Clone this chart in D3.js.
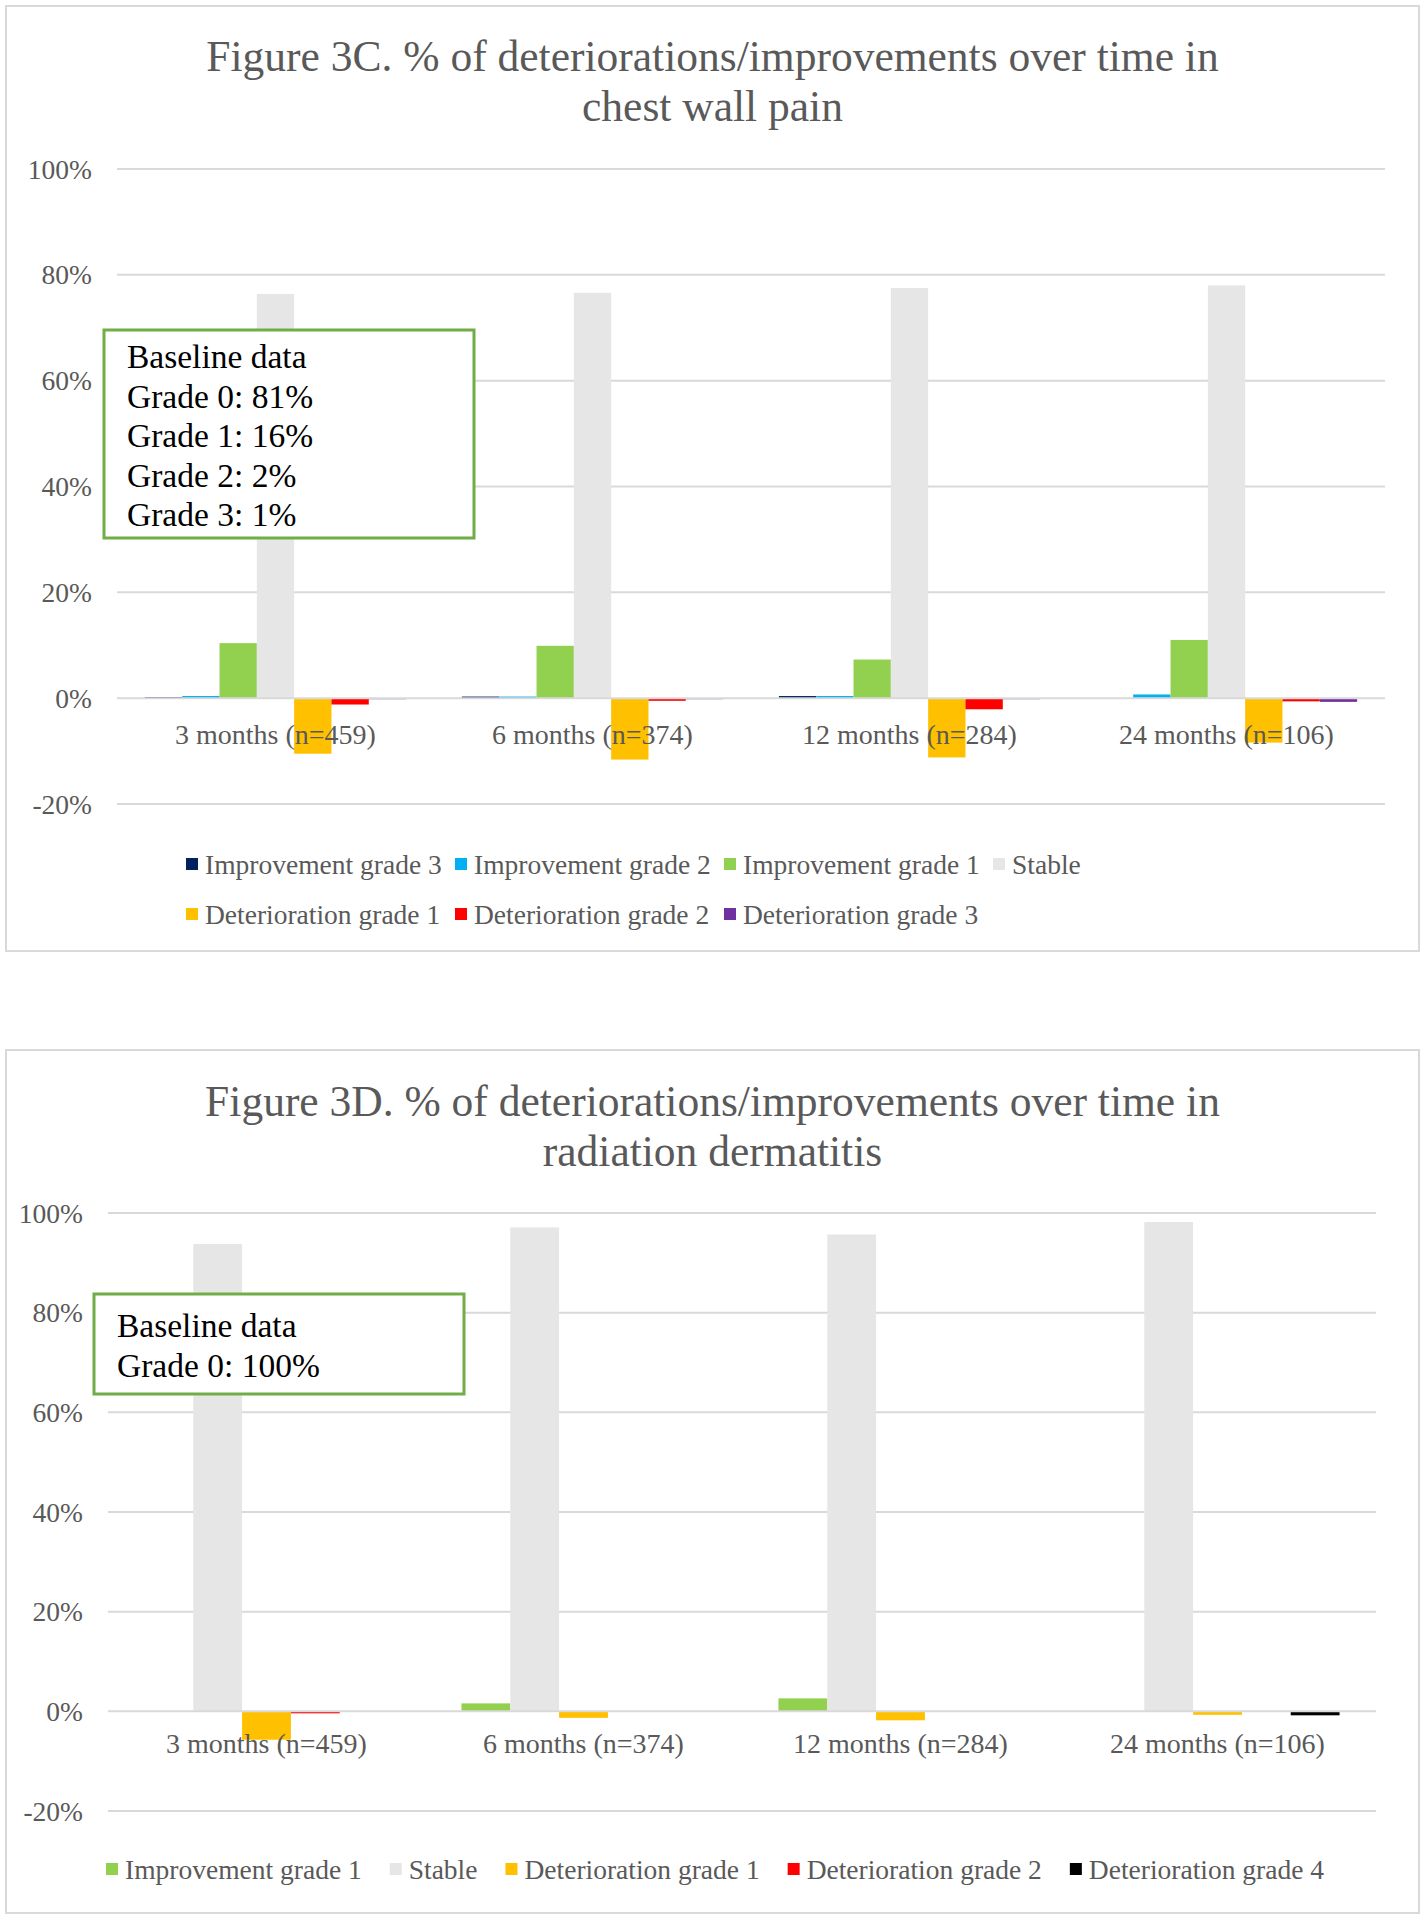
<!DOCTYPE html>
<html>
<head>
<meta charset="utf-8">
<script src="https://cdn.jsdelivr.net/npm/d3@7"></script>
<style>
  body { margin: 0; background: #fff; }
  svg { display: block; font-family: "Liberation Serif", "Times New Roman", serif; }
</style>
</head>
<body>
<div id="chart"></div>
<script>
// categories and tick labels (shared by both panels)
var categories = ["3 months (n=459)", "6 months (n=374)", "12 months (n=284)", "24 months (n=106)"];
var yTicks = [-0.2, 0, 0.2, 0.4, 0.6, 0.8, 1.0];
var yTickLabels = ["-20%", "0%", "20%", "40%", "60%", "80%", "100%"];

// Figure 3C - chest wall pain (values in %)
var chestTitle = ["Figure 3C. % of deteriorations/improvements over time in", "chest wall pain"];
var chestSeries = ["Improvement grade 3", "Improvement grade 2", "Improvement grade 1", "Stable",
                   "Deterioration grade 1", "Deterioration grade 2", "Deterioration grade 3"];
var chestImp3 = [0.2, 0.3, 0.4, 0];
var chestImp2 = [0.4, 0.3, 0.4, 0.7];
var chestImp1 = [10.4, 9.9, 7.3, 11.0];
var chestStable = [76.4, 76.6, 77.5, 78.0];
var chestDet1 = [-10.5, -11.6, -11.2, -8.4];
var chestDet2 = [-1.2, -0.5, -2.1, -0.6];
var chestDet3 = [-0.2, -0.2, -0.2, -0.7];
var chestBaseline = ["Baseline data", "Grade 0: 81%", "Grade 1: 16%", "Grade 2: 2%", "Grade 3: 1%"];

// Figure 3D - radiation dermatitis (values in %)
var dermTitle = ["Figure 3D. % of deteriorations/improvements over time in", "radiation dermatitis"];
var dermSeries = ["Improvement grade 1", "Stable", "Deterioration grade 1", "Deterioration grade 2", "Deterioration grade 4"];
var dermImp1 = [0, 1.6, 2.6, 0];
var dermStable = [93.8, 97.1, 95.7, 98.2];
var dermDet1 = [-5.7, -1.3, -1.8, -0.7];
var dermDet2 = [-0.4, 0, 0, 0];
var dermDet4 = [0, 0, 0, -0.8];
var dermBaseline = ["Baseline data", "Grade 0: 100%"];

var colors = {
  "Improvement grade 3": "#002060",
  "Improvement grade 2": "#00b0f0",
  "Improvement grade 1": "#92d050",
  "Stable": "#e7e6e6",
  "Deterioration grade 1": "#ffc000",
  "Deterioration grade 2": "#ff0000",
  "Deterioration grade 3": "#7030a0",
  "Deterioration grade 4": "#000000"
};

var textGrey = "#595959", gridGrey = "#d9d9d9";

var svg = d3.select("#chart").append("svg")
  .attr("width", 1425)
  .attr("height", 1920);

function drawPanel(cfg)
{
  var g = svg.append("g");

  g.append("rect")
    .attr("x", cfg.box[0]).attr("y", cfg.box[1])
    .attr("width", cfg.box[2]).attr("height", cfg.box[3])
    .attr("fill", "#fff").attr("stroke", gridGrey).attr("stroke-width", 2);

  g.selectAll("text.title").data(cfg.title).enter()
    .append("text")
      .attr("class", "title")
      .attr("x", 712.5)
      .attr("y", function(d, i) { return cfg.titleY + i * 50; })
      .attr("text-anchor", "middle")
      .attr("font-size", 43.5)
      .attr("fill", textGrey)
      .text(function(d) { return d; });

  var y = d3.scaleLinear().domain([-0.2, 1.0]).range(cfg.yRange);
  var x0 = d3.scaleBand().domain(categories).range(cfg.xRange)
    .paddingInner(cfg.pad).paddingOuter(cfg.pad / 2);
  var x1 = d3.scaleBand().domain(cfg.series).range([0, x0.bandwidth()]);

  // gridlines
  g.selectAll("line.grid").data(yTicks.filter(function(t) { return t !== 0; })).enter()
    .append("line")
      .attr("class", "grid")
      .attr("x1", cfg.xRange[0]).attr("x2", cfg.xRange[1])
      .attr("y1", function(d) { return y(d); }).attr("y2", function(d) { return y(d); })
      .attr("stroke", gridGrey).attr("stroke-width", 2);

  g.selectAll("text.tick").data(yTicks).enter()
    .append("text")
      .attr("class", "tick")
      .attr("x", cfg.xRange[0] - 25)
      .attr("y", function(d) { return y(d); })
      .attr("dy", "0.35em")
      .attr("text-anchor", "end")
      .attr("font-size", 27.5)
      .attr("fill", textGrey)
      .text(function(d, i) { return yTickLabels[i]; });

  // bars
  var groups = g.append("g").selectAll("g").data(categories).enter()
    .append("g")
      .attr("transform", function(d) { return "translate(" + x0(d) + ",0)"; });

  groups.selectAll("rect").data(function(d, ci) {
      return cfg.series.map(function(s, si) { return {key: s, value: cfg.values[si][ci] / 100}; });
    }).enter()
    .append("rect")
      .attr("x", function(d) { return x1(d.key); })
      .attr("y", function(d) { return y(Math.max(0, d.value)); })
      .attr("width", x1.bandwidth())
      .attr("height", function(d) { return Math.abs(y(d.value) - y(0)); })
      .attr("fill", function(d) { return colors[d.key]; });

  // horizontal axis line
  g.append("line")
    .attr("x1", cfg.xRange[0]).attr("x2", cfg.xRange[1])
    .attr("y1", y(0)).attr("y2", y(0))
    .attr("stroke", gridGrey).attr("stroke-width", 2);

  g.selectAll("text.cat").data(categories).enter()
    .append("text")
      .attr("class", "cat")
      .attr("x", function(d) { return x0(d) + x0.bandwidth() / 2; })
      .attr("y", y(0) + cfg.catDy)
      .attr("text-anchor", "middle")
      .attr("font-size", 28)
      .attr("fill", textGrey)
      .text(function(d) { return d; });

  // legend
  var legend = g.append("g");
  var cx = cfg.legendX, row = 0;
  cfg.series.forEach(function(s, i) {
    var lx, ly;
    if (cfg.legendCols) {
      lx = cfg.legendX + (i % cfg.legendCols) * cfg.legendColW;
      ly = cfg.legendY + Math.floor(i / cfg.legendCols) * 50;
    } else {
      lx = cx; ly = cfg.legendY;
    }
    legend.append("rect")
      .attr("x", lx).attr("y", ly - 6)
      .attr("width", 12).attr("height", 12)
      .attr("fill", colors[s]);
    var t = legend.append("text")
      .attr("x", lx + 19).attr("y", ly)
      .attr("dy", "0.35em")
      .attr("font-size", 27.5)
      .attr("fill", textGrey)
      .text(s);
    cx = lx + 19 + t.node().getComputedTextLength() + 28;
  });

  // baseline data box
  var b = cfg.note;
  g.append("rect")
    .attr("x", b[0]).attr("y", b[1]).attr("width", b[2]).attr("height", b[3])
    .attr("fill", "#fff").attr("stroke", "#70ad47").attr("stroke-width", 3);

  g.selectAll("text.note").data(cfg.noteText).enter()
    .append("text")
      .attr("class", "note")
      .attr("x", b[0] + 23)
      .attr("y", function(d, i) { return b[1] + cfg.noteY + i * 39.5; })
      .attr("font-size", 33.5)
      .attr("fill", "#000")
      .text(function(d) { return d; });
}

drawPanel({
  box: [6, 6, 1413, 945],
  title: chestTitle, titleY: 71,
  yRange: [804, 169], xRange: [117, 1385], pad: 0.176,
  series: chestSeries,
  values: [chestImp3, chestImp2, chestImp1, chestStable, chestDet1, chestDet2, chestDet3],
  catDy: 46,
  legendX: 186, legendY: 864, legendCols: 4, legendColW: 269,
  note: [104, 330, 370, 208], noteText: chestBaseline, noteY: 38
});

drawPanel({
  box: [6, 1050, 1413, 863],
  title: dermTitle, titleY: 1116,
  yRange: [1811, 1213], xRange: [108, 1376], pad: 0.23,
  series: dermSeries,
  values: [dermImp1, dermStable, dermDet1, dermDet2, dermDet4],
  catDy: 42,
  legendX: 106, legendY: 1869,
  note: [94, 1294, 370, 100], noteText: dermBaseline, noteY: 43
});
</script>
</body>
</html>
